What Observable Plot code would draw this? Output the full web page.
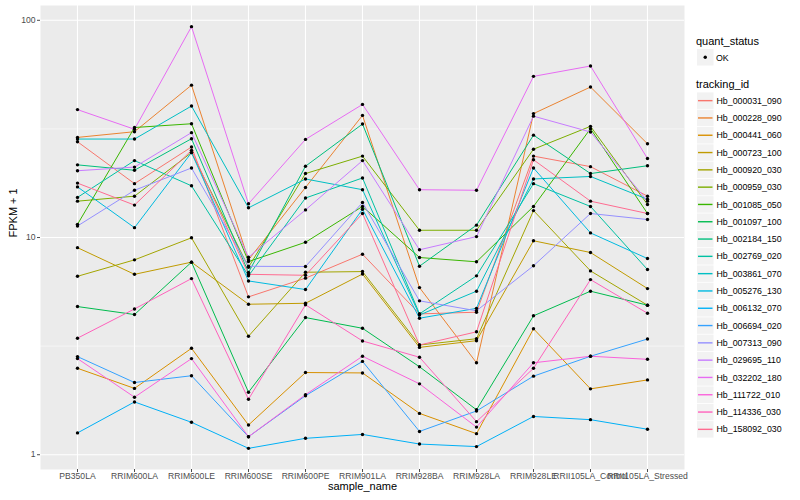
<!DOCTYPE html>
<html><head><meta charset="utf-8">
<script src="https://cdn.jsdelivr.net/npm/d3@7"></script>
<script src="https://cdn.jsdelivr.net/npm/@observablehq/plot@0.6"></script>
<style>
body{margin:0;background:#fff;font-family:"Liberation Sans",Arial,sans-serif;}
#wrap{position:relative;width:800px;height:500px;overflow:hidden;}
#chart{position:absolute;left:0;top:0;}
#legend{position:absolute;left:690px;top:0;}
</style></head><body>
<div id="wrap"><div id="chart"></div><div id="legend"></div></div>
<script>
const samples = ["PB350LA","RRIM600LA","RRIM600LE","RRIM600SE","RRIM600PE","RRIM901LA","RRIM928BA","RRIM928LA","RRIM928LE","RRII105LA_Control","RRII105LA_Stressed"];
const trackingIds = ["Hb_000031_090","Hb_000228_090","Hb_000441_060","Hb_000723_100","Hb_000920_030","Hb_000959_030","Hb_001085_050","Hb_001097_100","Hb_002184_150","Hb_002769_020","Hb_003861_070","Hb_005276_130","Hb_006132_070","Hb_006694_020","Hb_007313_090","Hb_029695_110","Hb_032202_180","Hb_111722_010","Hb_114336_030","Hb_158092_030"];
const yTicks = [1, 10, 100];

// FPKM + 1 per sample, in the order of `samples`
const Hb_000031_090 = [27.6, 17.7, 26.1, 5.33, 6.5, 8.38, 4.45, 4.53, 23.7, 21.2, 15.5];
const Hb_000228_090 = [28.9, 30.7, 50.3, 7.9, 17.0, 36.5, 5.88, 2.65, 37.2, 49.3, 27.0];
const Hb_000441_060 = [2.50, 2.02, 3.09, 1.37, 2.39, 2.38, 1.55, 1.25, 3.80, 2.01, 2.21];
const Hb_000723_100 = [8.98, 6.77, 7.70, 4.93, 4.98, 6.79, 3.12, 3.35, 9.66, 8.53, 5.82];
const Hb_000920_030 = [6.63, 7.89, 9.97, 3.51, 6.92, 6.97, 3.20, 3.42, 13.3, 7.02, 4.88];
const Hb_000959_030 = [14.7, 15.5, 24.6, 7.30, 19.7, 23.7, 10.8, 10.8, 25.5, 32.5, 14.2];
const Hb_001085_050 = [11.5, 32.1, 33.4, 7.75, 9.51, 13.9, 8.09, 7.73, 13.9, 31.7, 12.9];
const Hb_001097_100 = [4.81, 4.42, 7.70, 1.94, 4.28, 3.82, 2.54, 1.61, 4.36, 5.66, 4.88];
const Hb_002184_150 = [21.6, 20.4, 28.5, 6.90, 21.3, 33.3, 7.38, 11.4, 29.6, 19.7, 21.4];
const Hb_002769_020 = [15.3, 22.6, 17.3, 6.66, 15.2, 18.8, 4.45, 6.66, 17.7, 13.9, 7.12];
const Hb_003861_070 = [28.4, 28.4, 40.3, 13.7, 18.6, 16.6, 4.40, 5.66, 18.6, 19.1, 15.0];
const Hb_005276_130 = [17.1, 11.1, 24.6, 6.31, 5.76, 13.5, 4.25, 4.72, 20.9, 10.5, 8.0];
const Hb_006132_070 = [1.26, 1.75, 1.41, 1.07, 1.19, 1.24, 1.12, 1.09, 1.50, 1.45, 1.31];
const Hb_006694_020 = [2.83, 2.15, 2.31, 1.21, 1.87, 2.69, 1.28, 1.59, 2.30, 2.84, 3.41];
const Hb_007313_090 = [11.3, 16.5, 20.9, 7.37, 7.35, 14.5, 5.11, 4.60, 7.41, 12.9, 12.1];
const Hb_029695_110 = [20.3, 21.1, 30.4, 8.11, 13.4, 22.6, 8.78, 10.1, 36.2, 30.6, 14.7];
const Hb_032202_180 = [38.8, 31.5, 93.5, 14.3, 28.3, 41.0, 16.6, 16.5, 55.2, 61.6, 23.1];
const Hb_111722_010 = [2.77, 1.84, 2.77, 1.21, 1.89, 2.84, 2.12, 1.34, 2.65, 2.84, 2.75];
const Hb_114336_030 = [3.44, 4.69, 6.47, 1.80, 4.90, 3.34, 2.81, 1.42, 2.50, 6.40, 4.48];
const Hb_158092_030 = [17.8, 14.1, 25.2, 6.77, 6.7, 12.9, 3.20, 3.68, 22.8, 14.7, 12.9];

const seriesValues = [Hb_000031_090, Hb_000228_090, Hb_000441_060, Hb_000723_100, Hb_000920_030, Hb_000959_030, Hb_001085_050, Hb_001097_100, Hb_002184_150, Hb_002769_020, Hb_003861_070, Hb_005276_130, Hb_006132_070, Hb_006694_020, Hb_007313_090, Hb_029695_110, Hb_032202_180, Hb_111722_010, Hb_114336_030, Hb_158092_030];

const palette = ["#F8766D","#EA8331","#D89000","#C09B00","#A3A500","#7CAE00","#39B600","#00BB4E","#00BF7D","#00C1A3","#00BFC4","#00BAE0","#00B0F6","#35A2FF","#9590FF","#C77CFF","#E76BF3","#FA62DB","#FF62BC","#FF6C91"];

const data = [];
trackingIds.forEach((id, i) => seriesValues[i].forEach((v, j) => data.push({id, sample: samples[j], value: v, quant_status: "OK"})));

const font = "Liberation Sans, Arial, sans-serif";
const chart = Plot.plot({
  width: 690, height: 500,
  marginLeft: 40, marginRight: 6, marginTop: 5, marginBottom: 31,
  style: {fontFamily: font, fontSize: "8.6px", background: "#fff", color: "#4D4D4D"},
  x: {type: "point", domain: samples, padding: 0.6, label: null},
  y: {type: "log", domain: [0.855, 117], label: null},
  color: {domain: trackingIds, range: palette},
  marks: [
    Plot.frame({fill: "#EBEBEB", stroke: null}),
    Plot.gridY([Math.sqrt(10), Math.sqrt(1000)], {stroke: "white", strokeOpacity: 1, strokeWidth: 0.55}),
    Plot.gridY(yTicks, {stroke: "white", strokeOpacity: 1, strokeWidth: 1.1}),
    Plot.gridX(samples, {stroke: "white", strokeOpacity: 1, strokeWidth: 1.1}),
    Plot.line(data, {x: "sample", y: "value", z: "id", stroke: "id", strokeWidth: 1}),
    Plot.dot(data, {x: "sample", y: "value", r: 1.7, fill: "black", stroke: null}),
    Plot.axisY(yTicks, {tickSize: 3, tickPadding: 2, tickFormat: d => String(d), label: null}),
    Plot.axisX(samples, {tickSize: 3, tickPadding: 0.5, label: null}),
    Plot.text(["sample_name"], {text: d => d, frameAnchor: "bottom", dy: 20.5, fontSize: 11, fill: "black"}),
    Plot.text(["FPKM + 1"], {text: d => d, frameAnchor: "left", dx: -27, rotate: -90, fontSize: 11, fill: "black"})
  ]
});
document.getElementById("chart").appendChild(chart);

// legend
const lg = d3.select("#legend").append("svg").attr("width", 110).attr("height", 500)
  .style("font-family", font);
lg.append("text").attr("x", 6).attr("y", 44.5).attr("font-size", 11).attr("fill", "black").text("quant_status");
lg.append("rect").attr("x", 7).attr("y", 49).attr("width", 16.5).attr("height", 16.5).attr("fill", "#F2F2F2");
lg.append("circle").attr("cx", 15.25).attr("cy", 57.25).attr("r", 1.7).attr("fill", "black");
lg.append("text").attr("x", 26).attr("y", 60.5).attr("font-size", 8.8).attr("fill", "black").text("OK");
lg.append("text").attr("x", 6).attr("y", 88).attr("font-size", 11).attr("fill", "black").text("tracking_id");
const keyH = 17.3, key0 = 92;
trackingIds.forEach((id, i) => {
  const y = key0 + i * keyH;
  lg.append("rect").attr("x", 7).attr("y", y + 0.4).attr("width", 16.5).attr("height", keyH - 0.8).attr("fill", "#F2F2F2");
  lg.append("line").attr("x1", 8).attr("x2", 22.5).attr("y1", y + keyH / 2).attr("y2", y + keyH / 2)
    .attr("stroke", palette[i]).attr("stroke-width", 1.4);
  lg.append("text").attr("x", 26.5).attr("y", y + keyH / 2 + 3.1).attr("font-size", 8.8).attr("fill", "black").text(id);
});
</script>
</body></html>
